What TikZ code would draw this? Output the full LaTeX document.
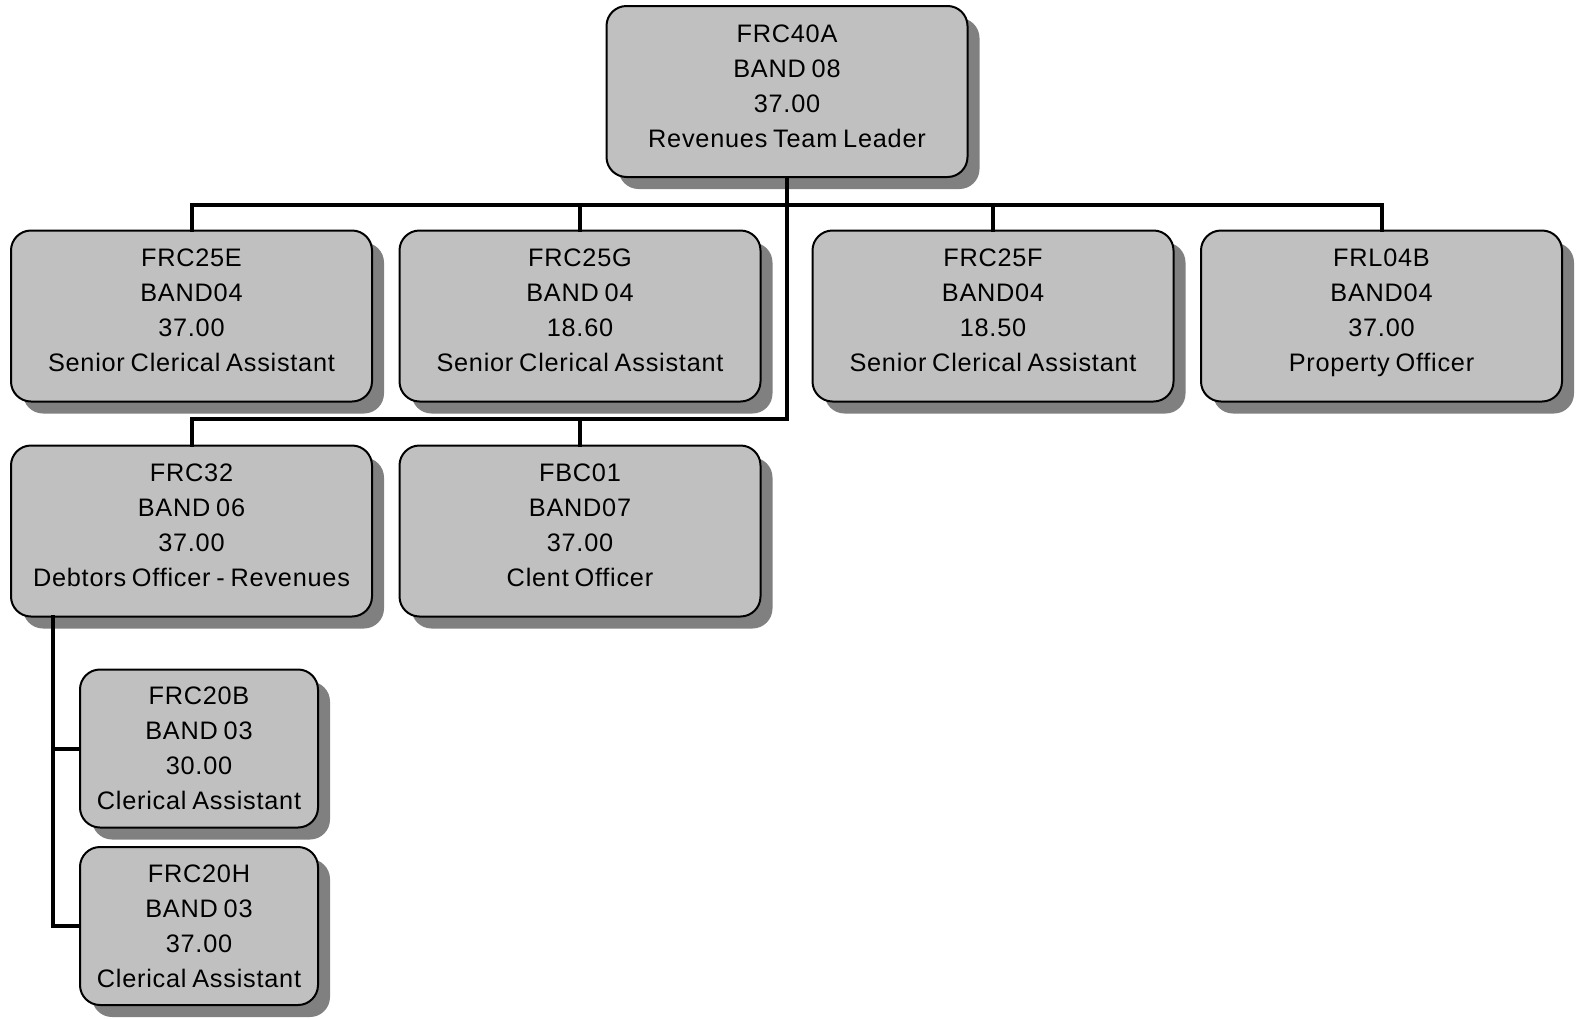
\documentclass[tikz,border=0pt]{standalone}
\usepackage{fontspec}
\setmainfont{Liberation Sans}[LetterSpace=3,WordSpace=0.75]
\usetikzlibrary{shadows}
\definecolor{boxfill}{HTML}{C0C0C0}
\definecolor{shadowgray}{HTML}{808080}
\tikzset{
  orgbox/.style={draw=black, line width=2pt, fill=boxfill, rounded corners=20pt,
    drop shadow={shadow xshift=12pt, shadow yshift=-12pt, fill=shadowgray, opacity=1},
    inner sep=0pt},
  bigbox/.style={orgbox, minimum width=361pt, minimum height=171pt},
  smallbox/.style={orgbox, minimum width=238pt, minimum height=158pt},
  orgtext/.style={align=center, font=\fontsize{25.3}{35}\selectfont, inner sep=0pt,
    execute at begin node=\strut, execute at end node=\strut},
  conn/.style={line width=4pt, line cap=rect}
}
\begin{document}
\begin{tikzpicture}[x=1pt,y=-1pt]
\useasboundingbox (0,0) rectangle (1579,1018);
% boxes
\node[bigbox] (top) at (787,91.5) {};
\node[orgtext] (top-t) at (787,91) {FRC40A\\BAND 08\\37.00\\Revenues Team Leader};

\node[bigbox] (e) at (191.5,316) {};
\node[orgtext] (e-t) at (191.5,315) {FRC25E\\BAND04\\37.00\\Senior Clerical Assistant};
\node[bigbox] (g) at (580,316) {};
\node[orgtext] (g-t) at (580,315) {FRC25G\\BAND 04\\18.60\\Senior Clerical Assistant};
\node[bigbox] (f) at (993,316) {};
\node[orgtext] (f-t) at (993,315) {FRC25F\\BAND04\\18.50\\Senior Clerical Assistant};
\node[bigbox] (l) at (1381.5,316) {};
\node[orgtext] (l-t) at (1381.5,315) {FRL04B\\BAND04\\37.00\\Property Officer};

\node[bigbox] (d) at (191.5,531) {};
\node[orgtext] (d-t) at (191.5,530) {FRC32\\BAND 06\\37.00\\Debtors Officer - Revenues};
\node[bigbox] (c) at (580,531) {};
\node[orgtext] (c-t) at (580,530) {FBC01\\BAND07\\37.00\\Clent Officer};

\node[smallbox] (b) at (199,748.5) {};
\node[orgtext] (b-t) at (199,753.5) {FRC20B\\BAND 03\\30.00\\Clerical Assistant};
\node[smallbox] (h) at (199,926) {};
\node[orgtext] (h-t) at (199,931.5) {FRC20H\\BAND 03\\37.00\\Clerical Assistant};

% connectors
\coordinate (j1) at (787,205);
\coordinate (j2) at (787,419);
\draw[conn] (top.south) -- (j2);
\draw[conn] (e.north) |- (j1);
\draw[conn] (g.north) |- (j1);
\draw[conn] (f.north) |- (j1);
\draw[conn] (l.north) |- (j1);
\draw[conn] (d.north) |- (j2);
\draw[conn] (c.north) |- (j2);
\coordinate (k) at (53,617);
\draw[conn] (k) |- (b.west);
\draw[conn] (k) |- (h.west);
\end{tikzpicture}
\end{document}
